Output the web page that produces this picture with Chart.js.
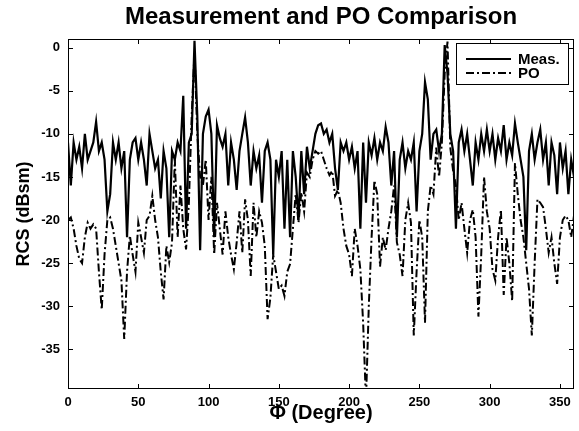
<!DOCTYPE html>
<html>
<head>
<meta charset="utf-8">
<script src="https://cdn.jsdelivr.net/npm/chart.js@4.4.1/dist/chart.umd.min.js"></script>
<style>
  body { margin: 0; background: #fff; }
</style>
</head>
<body>
<canvas id="rcs-chart" width="579" height="431"></canvas>
<script>
// angle (deg), sampled every 2 degrees
var angle = [
  0, 2, 4, 6, 8, 10, 12, 14, 16, 18, 20, 22, 24, 26, 28, 30, 32, 34, 36, 38,
  40, 42, 44, 46, 48, 50, 52, 54, 56, 58, 60, 62, 64, 66, 68, 70, 72, 74, 76, 78,
  80, 82, 84, 86, 88, 90, 92, 94, 96, 98, 100, 102, 104, 106, 108, 110, 112, 114, 116, 118,
  120, 122, 124, 126, 128, 130, 132, 134, 136, 138, 140, 142, 144, 146, 148, 150, 152, 154, 156, 158,
  160, 162, 164, 166, 168, 170, 172, 174, 176, 178, 180, 182, 184, 186, 188, 190, 192, 194, 196, 198,
  200, 202, 204, 206, 208, 210, 212, 214, 216, 218, 220, 222, 224, 226, 228, 230, 232, 234, 236, 238,
  240, 242, 244, 246, 248, 250, 252, 254, 256, 258, 260, 262, 264, 266, 268, 270, 272, 274, 276, 278,
  280, 282, 284, 286, 288, 290, 292, 294, 296, 298, 300, 302, 304, 306, 308, 310, 312, 314, 316, 318,
  320, 322, 324, 326, 328, 330, 332, 334, 336, 338, 340, 342, 344, 346, 348, 350, 352, 354, 356, 358,
  360
];

var meas = [
  -11, -16, -11, -13, -11.5, -14, -10, -13, -12, -11, -8.6, -12, -11, -13, -19, -17, -11, -13, -11, -14,
  -12, -22, -13, -11, -10.5, -13, -11, -13, -16, -10, -12, -14, -13, -17.5, -12, -14, -22, -12, -13, -11,
  -12, -5.6, -21, -11, -10, 0.8, -8, -23.5, -10, -8, -7.2, -10, -22, -9, -10.5, -11.5, -10, -16, -11, -13,
  -16.5, -12, -10, -8.1, -11, -16, -12, -14, -12.5, -18, -12, -11, -13, -24, -13, -15, -12, -21, -13, -22,
  -12, -15, -20, -12, -17, -11.5, -14, -12, -10, -9, -8.8, -10, -9.5, -11, -10, -14, -16.5, -11, -12, -11,
  -13, -11.5, -14, -12, -21, -11, -18, -11, -12.5, -10.5, -13, -11, -12, -9.2, -11, -16, -12, -22, -13, -11,
  -14, -12, -13, -11, -19, -12, -10, -4, -6, -13, -10, -9.5, -12, -10, 0.3, -3, -10, -12, -21, -11,
  -9.5, -12, -10, -13, -16, -11, -13, -10, -12, -9.5, -12, -10, -13, -10.5, -12, -9, -13, -11, -12.5, -8.8,
  -11, -13, -15, -23.5, -12, -10, -13, -11, -9.5, -13, -11, -16, -11, -12.5, -17, -11, -14, -12, -17, -13,
  -15
];

var po = [
  -20, -19.7, -21, -23, -24.5, -25, -22, -20.3, -21, -20.5, -21, -26, -30.4, -24, -20, -19.7, -21, -23, -25, -27,
  -33.8, -26, -21.8, -24, -26, -20.3, -22, -23.8, -20, -19.5, -17.2, -20, -22, -26, -29.2, -23, -24.9, -22.6, -13, -22,
  -16, -21, -23.4, -18, -8, -0.5, -10, -15, -16, -13, -20, -15, -24, -18, -21, -24, -19, -22, -24, -25.7,
  -22.6, -19, -23.8, -17.6, -20, -26.5, -18, -22, -19, -20.3, -23, -31.5, -29, -24, -26, -28, -27.6, -28.8, -26, -25.1,
  -21, -17, -20.3, -16.8, -19, -14.5, -15, -13, -12, -12.3, -12, -13, -14, -14.8, -14.3, -17.2, -16.5, -18, -21, -23,
  -24, -26.5, -21, -23, -25.7, -32, -41, -30, -22, -15.4, -17, -25.4, -22, -23.5, -21, -19, -16, -22.6, -24, -26.5,
  -20, -18, -20.3, -33.4, -26, -20, -22, -31.9, -19, -16, -17, -11.6, -15, -11, -3, 0.7, -11.6, -14.3, -16, -20,
  -18, -21, -23.8, -20, -18.8, -22, -31.2, -24, -15, -19, -21, -25.7, -27, -22, -18.8, -28.7, -22, -25, -29.4, -13.4,
  -17, -20, -22, -25, -28, -33.4, -25, -17.6, -18, -18.5, -21, -23.8, -22, -25, -27.4, -22, -20, -19.5, -20, -22,
  -19.5
];

var xTicks = [0, 50, 100, 150, 200, 250, 300, 350];
var yTicks = [-35, -30, -25, -20, -15, -10, -5, 0];
var chartTitle = 'Measurement and PO Comparison';

var fontFamily = '"Liberation Sans", Arial, Helvetica, sans-serif';

// MATLAB style box with inward ticks on all four sides, title over the axes, legend
const boxPlugin = {
  id: 'boxPlugin',
  afterDatasetsDraw(chart) {
    const ctx = chart.ctx;
    const a = chart.chartArea;
    const xs = chart.scales.x;
    const ys = chart.scales.y;
    const len = 5;
    ctx.save();
    ctx.strokeStyle = '#000';
    ctx.lineWidth = 1;
    ctx.strokeRect(a.left + 0.5, a.top + 0.5, a.right - a.left - 1, a.bottom - a.top - 1);
    ctx.beginPath();
    xTicks.forEach(function (v) {
      const px = Math.round(xs.getPixelForValue(v)) + 0.5;
      ctx.moveTo(px, a.bottom);
      ctx.lineTo(px, a.bottom - len);
      ctx.moveTo(px, a.top);
      ctx.lineTo(px, a.top + len);
    });
    yTicks.forEach(function (v) {
      const py = Math.round(ys.getPixelForValue(v)) + 0.5;
      ctx.moveTo(a.left, py);
      ctx.lineTo(a.left + len, py);
      ctx.moveTo(a.right, py);
      ctx.lineTo(a.right - len, py);
    });
    ctx.stroke();

    // title, centred over the axes like matlab does
    ctx.fillStyle = '#000';
    ctx.font = 'bold 24px ' + fontFamily;
    ctx.textAlign = 'center';
    ctx.textBaseline = 'middle';
    ctx.fillText(chartTitle, (a.left + a.right) / 2, 17);

    // legend
    const w = 112, h = 41;
    const lx = a.right - 6 - w;
    const ly = a.top + 4;
    ctx.fillStyle = '#fff';
    ctx.fillRect(lx, ly, w, h);
    ctx.strokeRect(lx + 0.5, ly + 0.5, w, h);
    ctx.font = 'bold 15px ' + fontFamily;
    ctx.textAlign = 'left';
    chart.data.datasets.forEach(function (ds, i) {
      const y = ly + 16 + i * 14;
      ctx.beginPath();
      ctx.setLineDash(ds.borderDash || []);
      ctx.lineWidth = ds.borderWidth;
      ctx.moveTo(lx + 10, y);
      ctx.lineTo(lx + 55, y);
      ctx.stroke();
      ctx.setLineDash([]);
      ctx.fillStyle = '#000';
      ctx.fillText(ds.label, lx + 62, y + 1);
    });
    ctx.restore();
  }
};

const rcsChart = new Chart(document.getElementById('rcs-chart'), {
  type: 'line',
  data: {
    datasets: [{
      label: 'Meas.',
      data: angle.map(function (a, i) { return { x: a, y: meas[i] }; }),
      borderColor: '#000',
      borderWidth: 2.2,
      pointRadius: 0,
      tension: 0
    }, {
      label: 'PO',
      data: angle.map(function (a, i) { return { x: a, y: po[i] }; }),
      borderColor: '#000',
      borderWidth: 2,
      borderDash: [8, 3, 2, 3],
      pointRadius: 0,
      tension: 0
    }]
  },
  options: {
    responsive: false,
    animation: false,
    devicePixelRatio: 1,
    layout: {
      padding: { left: 0, right: 5, top: 39, bottom: 0 }
    },
    plugins: {
      legend: { display: false },
      tooltip: { enabled: false },
      title: { display: false }
    },
    scales: {
      x: {
        type: 'linear',
        min: 0,
        max: 360,
        afterBuildTicks: function (s) { s.ticks = xTicks.map(function (v) { return { value: v }; }); },
        afterFit: function (s) { s.height = 42; },
        grid: { display: false, drawTicks: false },
        border: { display: false },
        ticks: {
          color: '#000',
          padding: 6,
          maxRotation: 0,
          font: { family: fontFamily, size: 13, weight: 'bold' }
        },
        title: {
          display: true,
          text: 'Φ (Degree)',
          color: '#000',
          font: { family: fontFamily, size: 20, weight: 'bold' },
          padding: { top: 0, bottom: 6 }
        }
      },
      y: {
        min: -39.6,
        max: 1,
        afterBuildTicks: function (s) { s.ticks = yTicks.map(function (v) { return { value: v }; }); },
        afterFit: function (s) { s.width = 68; },
        grid: { display: false, drawTicks: false },
        border: { display: false },
        ticks: {
          color: '#000',
          padding: 8,
          font: { family: fontFamily, size: 13, weight: 'bold' }
        },
        title: {
          display: true,
          text: 'RCS (dBsm)',
          color: '#000',
          font: { family: fontFamily, size: 18, weight: 'bold' },
          padding: { top: 13, bottom: 0 }
        }
      }
    }
  },
  plugins: [boxPlugin]
});
</script>
</body>
</html>
